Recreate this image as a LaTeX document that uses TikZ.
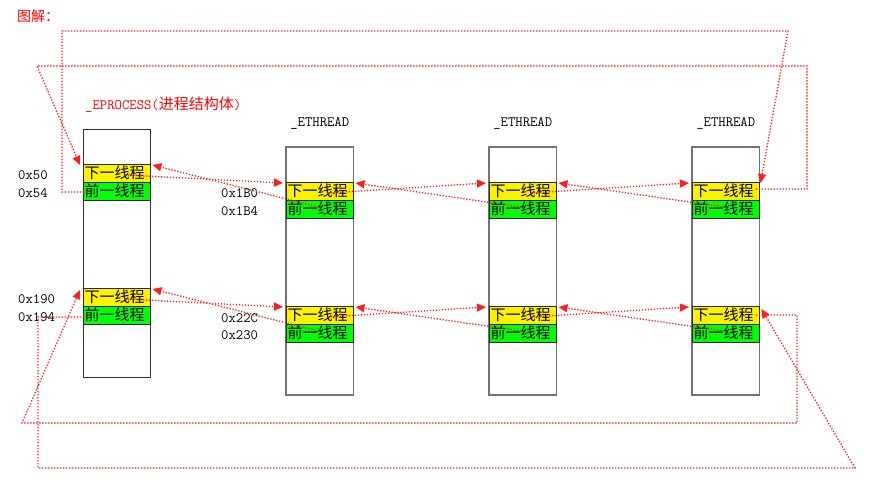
\documentclass[tikz,border=0pt]{standalone}
\usepackage{fontspec}
\newfontfamily\cjk{Noto Sans CJK SC}
\usetikzlibrary{arrows.meta}
\newcommand\cjkf{\cjk\fontsize{15}{15}\selectfont}
\newcommand\labf{\ttfamily\fontsize{14.3}{15}\selectfont}
\definecolor{lnk}{RGB}{255,30,30}
\tikzset{
  pbox/.style={draw=black!80, line width=1pt, minimum width=67.5pt, minimum height=248pt, anchor=north west, inner sep=0pt, outer sep=0pt},
  tbox/.style={pbox, draw=black!55, line width=1.2pt},
  ycell/.style={fill=yellow, draw=black!85, line width=1pt, minimum width=67.5pt, minimum height=18pt, text width=64.5pt, inner xsep=1.5pt, inner ysep=0pt, outer sep=0pt, align=left, anchor=north west, font=\cjkf},
  gcell/.style={ycell, fill=green},
  lab/.style={font=\labf, inner sep=0pt, anchor=west},
  ttl/.style={font=\labf, inner sep=0pt, anchor=base},
  link/.style={draw=lnk, line width=1.3pt, dash pattern=on 1.3pt off 1.7pt, -{Triangle[length=9pt,width=8pt]}}
}
\begin{document}
\begin{tikzpicture}[x=1pt, y=-1pt]
\useasboundingbox (0,0) rectangle (870,490);
% title
\node[inner sep=0pt, anchor=base west, text=red, font=\cjk\fontsize{14}{14}\selectfont] (title) at (17,21) {图解：};
\node[inner sep=0pt, anchor=base west, text=red, font=\labf] (ptitle) at (85,109.5) {\_EPROCESS({\cjkf 进程结构体})};
% EPROCESS
\node[pbox] (P) at (83,129) {};
\node[ycell] (P-y1) at (83,164) {下一线程};
\node[gcell] (P-g1) at (83,182) {前一线程};
\node[ycell] (P-y2) at (83,288) {下一线程};
\node[gcell] (P-g2) at (83,306) {前一线程};
% ETHREADs
\foreach \i/\x in {1/286,2/489,3/692}{
  \node[tbox] (t\i) at (\x,147) {};
  \node[ttl] (t\i-name) at (\x+33.75,126.5) {\_ETHREAD};
  \node[ycell] (t\i-y1) at (\x,182) {下一线程};
  \node[gcell] (t\i-g1) at (\x,200) {前一线程};
  \node[ycell] (t\i-y2) at (\x,306) {下一线程};
  \node[gcell] (t\i-g2) at (\x,324) {前一线程};
}
% offsets
\node[lab] (o50) at (18,175) {0x50};
\node[lab] (o54) at (18,193) {0x54};
\node[lab] (o190) at (18,299) {0x190};
\node[lab] (o194) at (18,317) {0x194};
\node[lab] (o1b0) at (221,193) {0x1B0};
\node[lab] (o1b4) at (221,211) {0x1B4};
\node[lab] (o22c) at (221,318) {0x22C};
\node[lab] (o230) at (221,335) {0x230};
% links between neighbours
\foreach \a/\b in {P/t1,t1/t2,t2/t3}{
  \foreach \r in {1,2}{
    \draw[link] ([xshift=42pt,yshift=-2pt]\a-y\r.west) -- ([xshift=-3pt,yshift=-1pt]\b-y\r.north west);
    \draw[link] ([xshift=32pt,yshift=2pt]\b-g\r.west) -- ([xshift=2pt,yshift=-1pt]\a-y\r.north east);
  }
}
% loop corners
\coordinate (L1a) at (807,189);
\coordinate (L1b) at (807,66);
\coordinate (L1c) at (37,66);
\coordinate (L2a) at (62,192);
\coordinate (L2b) at (62,31);
\coordinate (L2c) at (788,31);
\coordinate (L3a) at (797,315);
\coordinate (L3b) at (797,423);
\coordinate (L3c) at (22,423);
\coordinate (L4a) at (38,317);
\coordinate (L4b) at (38,468);
\coordinate (L4c) at (855,468);
% wrap-around links
\draw[link] ([xshift=-4pt,yshift=2pt]t3-y1.east) -- (L1a) -- (L1b) -- (L1c) -- ([xshift=-3pt,yshift=-1pt]P-y1.north west);
\draw[link] ([xshift=4pt,yshift=-1pt]P-g1.west) -- (L2a) -- (L2b) -- (L2c) -- ([xshift=1pt,yshift=-1pt]t3-y1.north east);
\draw[link] ([xshift=-4pt]t3-y2.east) -- (L3a) -- (L3b) -- (L3c) -- ([xshift=-3pt,yshift=-2pt]P-y2.north west);
\draw[link] ([xshift=4pt,yshift=-2pt]P-g2.west) -- (L4a) -- (L4b) -- (L4c) -- ([xshift=2pt,yshift=-3pt]t3-y2.north east);
\end{tikzpicture}
\end{document}
